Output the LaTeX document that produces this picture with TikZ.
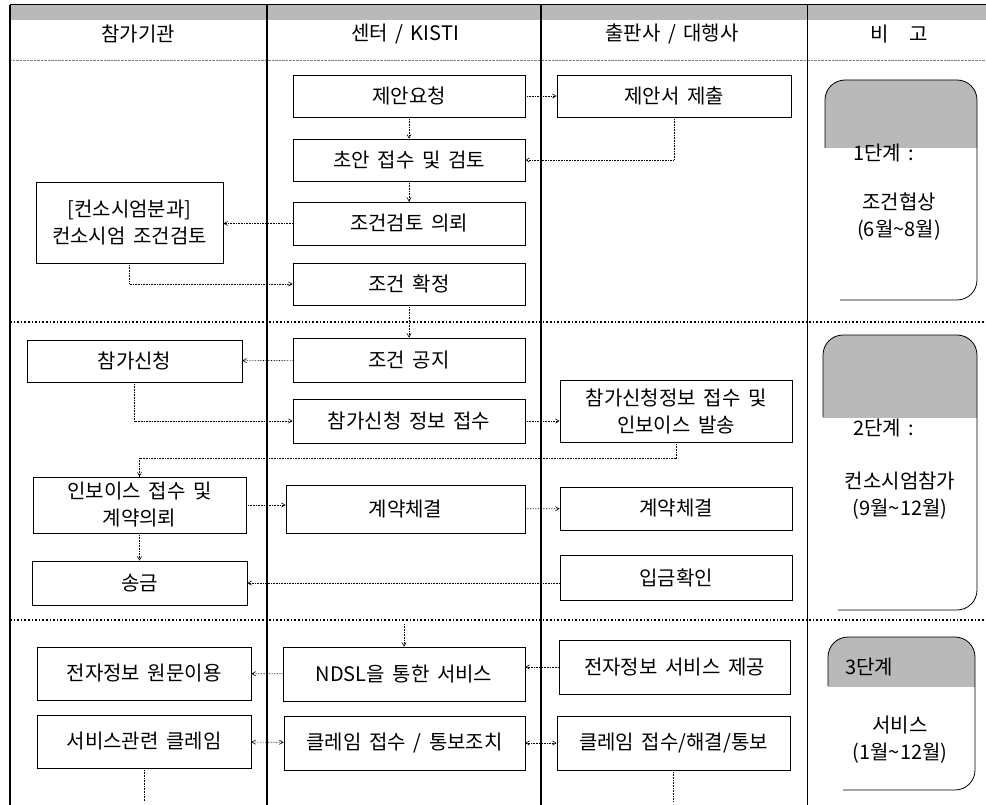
\documentclass[tikz,border=0pt]{standalone}
\usepackage{fontspec}
\setmainfont{Noto Sans CJK KR}
\usepackage{tikz}
\usetikzlibrary{arrows}
\newcommand{\boxfont}{\fontsize{20}{27}\selectfont\spaceskip 0.38em\relax}
\newcommand{\phasebox}[5]{%
\begin{scope}
\clip (#1-5,#2-5) rectangle (#3+5,#5);
\fill[gray!55,rounded corners=20pt] (#1,#2) rectangle (#3,#4);
\end{scope}
\draw[line width=0.8pt,rounded corners=20pt] (#1,#5) -- (#1,#2) -- (#3,#2) -- (#3,#4) -- (#1+15,#4);
}

\begin{document}
\begin{tikzpicture}[x=1pt,y=-1pt,
font=\boxfont,
box/.style={draw,line width=0.8pt,inner sep=0pt,align=center},
flow/.style={->,>=angle 60,densely dotted,line width=0.6pt}]
\useasboundingbox (0,0) rectangle (986,805);
% table
\fill[gray!55] (10,5) rectangle (986,20);
\draw[line width=1pt] (10,5) -- (986,5);
\draw[densely dotted,gray] (10,60) -- (986,60);
\draw[line width=1.2pt] (10,5) -- (10,805);
\draw[line width=1.6pt] (267,5) -- (267,805);
\draw[line width=1.6pt] (541,5) -- (541,805);
\draw[line width=0.6pt] (807,5) -- (807,805);
\draw[line width=1.6pt,dotted] (10,322) -- (986,322);
\draw[line width=1.6pt,dotted] (10,620) -- (986,620);
\node (T1) at (138,34) {참가기관};
\node (T2) at (405,34) {센터 / KISTI};
\node (T3) at (672,34) {출판사 / 대행사};
\node (T4) at (899,34) {비\hspace{21pt}고};
% 참가기관
\node[box,minimum width=187pt,minimum height=81pt] (A1) at (129.5,222.5) {[컨소시엄분과]\\컨소시엄 조건검토};
\node[box,minimum width=215pt,minimum height=42pt] (A2) at (134.5,361) {참가신청};
\node[box,minimum width=213pt,minimum height=56pt] (A3) at (139.5,505) {인보이스 접수 및\\계약의뢰};
\node[box,minimum width=215pt,minimum height=44pt] (A4) at (139.5,583) {송금};
\node[box,minimum width=214pt,minimum height=53pt] (A5) at (144,673.5) {전자정보 원문이용};
\node[box,minimum width=214pt,minimum height=53pt] (A6) at (144,741.5) {서비스관련 클레임};
% 센터
\node[box,minimum width=232pt,minimum height=42pt] (B1) at (409,96) {제안요청};
\node[box,minimum width=232pt,minimum height=42pt] (B2) at (409,160) {초안 접수 및 검토};
\node[box,minimum width=232pt,minimum height=43pt] (B3) at (409,223.5) {조건검토 의뢰};
\node[box,minimum width=232pt,minimum height=42pt] (B4) at (409,284) {조건 확정};
\node[box,minimum width=232pt,minimum height=44pt] (B5) at (409,360) {조건 공지};
\node[box,minimum width=232pt,minimum height=44pt] (B6) at (409,421) {참가신청 정보 접수};
\node[box,minimum width=239pt,minimum height=48pt] (B7) at (405.5,509) {계약체결};
\node[box,minimum width=242pt,minimum height=54pt] (B8) at (404,674) {NDSL을 통한 서비스};
\node[box,minimum width=241pt,minimum height=54pt] (B9) at (404.5,743) {클레임 접수 / 통보조치};
% 출판사
\node[box,minimum width=234pt,minimum height=42pt] (C1) at (674,96) {제안서 제출};
\node[box,minimum width=232pt,minimum height=62pt] (C2) at (676,411) {참가신청정보 접수 및\\인보이스 발송};
\node[box,minimum width=232pt,minimum height=43pt] (C3) at (676,508.5) {계약체결};
\node[box,minimum width=232pt,minimum height=45pt] (C4) at (676,577.5) {입금확인};
\node[box,minimum width=231pt,minimum height=54pt] (C5) at (674.5,667) {전자정보 서비스 제공};
\node[box,minimum width=233pt,minimum height=54pt] (C6) at (673.5,743) {클레임 접수/해결/통보};
% 비고
\phasebox{825}{80}{977}{300}{148}
\phasebox{823}{335}{977}{610}{417}
\phasebox{828}{637}{975}{790}{686}
\node (P1) at (884,153) {1단계 :};
\node[align=center] (P1b) at (899,217) {조건협상\\(6월\textasciitilde 8월)};
\node (P2) at (884,428) {2단계 :};
\node[align=center] (P2b) at (900,496) {컨소시엄참가\\(9월\textasciitilde 12월)};
\node (P3) at (869,667) {3단계};
\node[align=center] (P3b) at (900,740) {서비스\\(1월\textasciitilde 12월)};
% flow
\coordinate (V) at (404,624);
\coordinate (W1) at (144,802);
\coordinate (W2) at (673.5,802);
\path[flow]
(B1) edge (C1)
(B1) edge (B2)
(B2) edge (B3)
(B4) edge (B5)
(B5) edge (A2)
(B7) edge (C3)
(A3) edge (A4)
(B8) edge (A5)
(V) edge (B8);
\path[flow,<->]
(A6) edge (B9)
(B9) edge (C6);
\draw[flow] (C1.south) |- (B2.east);
\draw[flow] (B3.west) -- (B3.west -| A1.east);
\draw[flow] (A1.south) |- (B4.west);
\draw[flow] (A2.south) |- (B6.west);
\draw[flow] (B6.east) -- (B6.east -| C2.west);
\draw[flow] (C2.south) -- ++(0,16) -| (A3.north);
\draw[flow] (A3.east) -- (A3.east -| B7.west);
\draw[flow] (A4.east -| C4.west) -- (A4.east);
\draw[flow] (C5.west) -- (C5.west -| B8.east);
\draw[densely dotted,line width=0.6pt] (A6) -- (W1) (C6) -- (W2);
\end{tikzpicture}
\end{document}
